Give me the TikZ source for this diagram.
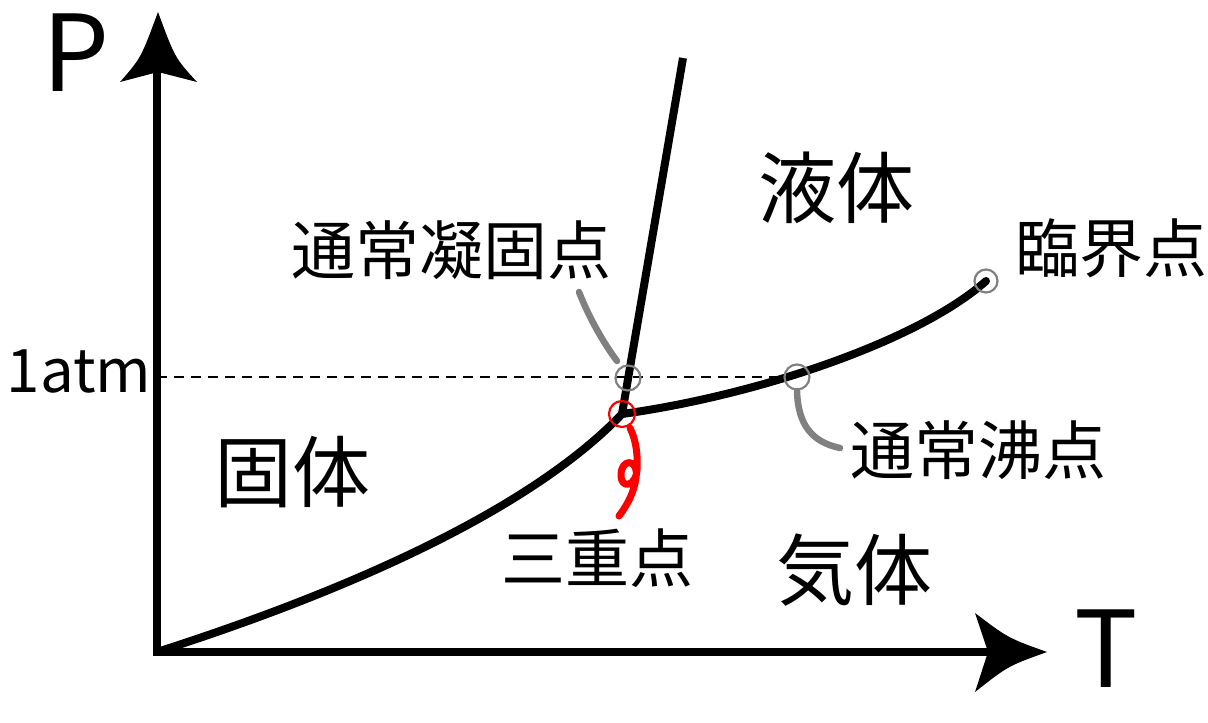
\documentclass[tikz,border=0pt]{standalone}
\usepackage{fontspec}
\setmainfont{Noto Sans CJK JP}
\begin{document}
\begin{tikzpicture}[x=1pt,y=-1pt,
  axis/.style={line width=7.5pt},
  curve/.style={line width=8pt},
  leader/.style={line width=6.5pt,color=gray,line cap=round},
  ring/.style={draw=gray,line width=2.2pt,circle,minimum size=25pt,inner sep=0pt},
  redring/.style={draw=red,line width=2.2pt,circle,minimum size=26pt,inner sep=0pt},
  phase/.style={inner sep=0pt,font=\fontsize{78}{80}\selectfont},
  lbl/.style={inner sep=0pt,font=\fontsize{64}{66}\selectfont},
  axlbl/.style={inner sep=0pt,font=\fontsize{106}{108}\selectfont}]
\useasboundingbox (0,0) rectangle (1208,723);
% key points
\coordinate (O) at (157,652);
\coordinate (ytip) at (158,12);
\coordinate (xtip) at (1047,652);
\coordinate (tp) at (622,414);
\coordinate (melt) at (683,58);
\coordinate (bp) at (797,377);
\coordinate (cp) at (986,281);
\coordinate (fp) at (628,378);
\coordinate (dashL) at (157,377);
% axes
\draw[axis] (157,656) -- (157,72);
\draw[axis] (153,652) -- (990,652);
\fill (ytip) .. controls (141,58) .. (120,82) -- (158,72) -- (197,82) .. controls (175,58) .. (ytip) -- cycle;
\fill (xtip) .. controls (1008,638) .. (975,613) -- (988,652) -- (975,692) .. controls (1008,666) .. (xtip) -- cycle;
% dashed 1 atm line
\draw[line width=1.6pt,dash pattern=on 10pt off 7pt] (dashL) -- (bp);
% phase curves
\draw[curve] (O) .. controls (350,590) and (530,510) .. (tp);
\draw[curve] (tp) -- (melt);
\draw[curve,line cap=round] (tp) .. controls (760,395) and (920,340) .. (cp);
% leaders
\draw[leader] (579,292) .. controls (590,320) and (605,345) .. (617,361);
\draw[leader] (797,391) .. controls (798,425) and (812,442) .. (840,448);
\draw[red,line width=7pt,line cap=round,line join=round]
  (630,428) .. controls (636,440) and (638,455) .. (637,470)
  .. controls (636,486) and (621,490) .. (621,475)
  .. controls (621,458) and (639,458) .. (636,478)
  .. controls (634,492) and (628,504) .. (619,516);
% markers
\node[ring] (fpc) at (fp) {};
\node[ring] (bpc) at (bp) {};
\node[ring,minimum size=23pt] (cpc) at (cp) {};
\node[redring] (tpc) at (tp) {};
% labels
\node[axlbl] (P) at (76,53) {P};
\node[axlbl] (T) at (1106,649) {T};
\node[inner sep=0pt,font=\fontsize{60}{62}\selectfont] (atm) at (79,371) {1atm};
\node[phase] (liq) at (836,188) {液体};
\node[phase] (sol) at (292,472) {固体};
\node[phase] (gas) at (854,570) {気体};
\node[lbl] (nfp) at (451,250) {通常凝固点};
\node[lbl] (crit) at (1111,248) {臨界点};
\node[lbl] (nbp) at (978,450) {通常沸点};
\node[lbl] (trip) at (597,558) {三重点};
\end{tikzpicture}
\end{document}
